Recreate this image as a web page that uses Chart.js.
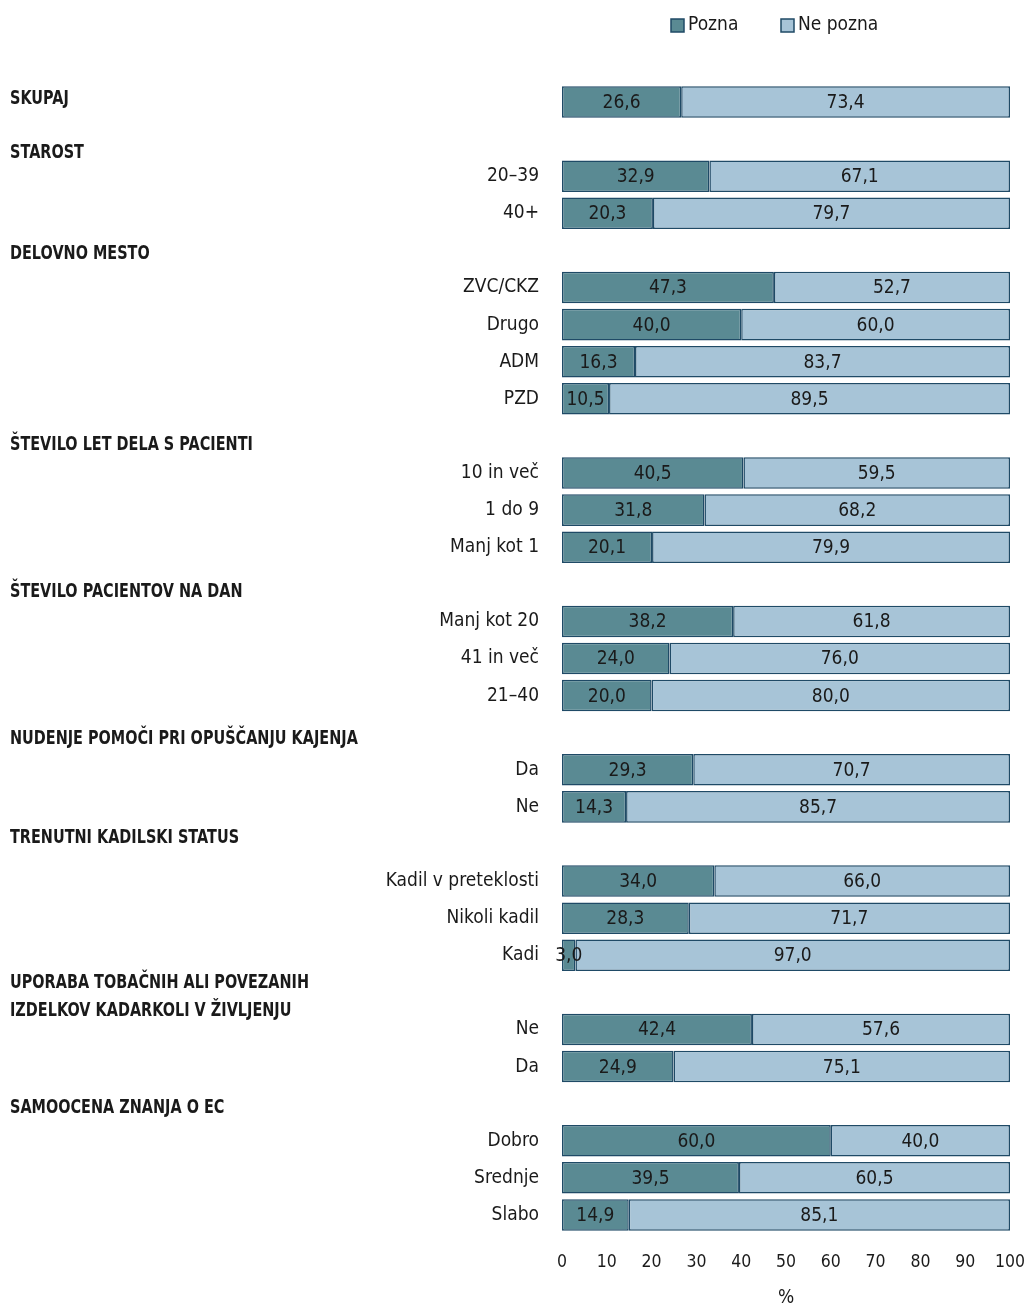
<!DOCTYPE html>
<html lang="sl">
<head>
    <meta charset="UTF-8">
    <title>Poznavanje EC</title>
    <script src="https://cdn.jsdelivr.net/npm/chart.js"></script>
    <style>
        body {
            margin: 0;
            padding: 0;
            background-color: #fff;
        }
        .container {
            width: 1024px;
            height: 1309px;
            position: relative;
        }
    </style>
</head>
<body>

<div class="container">
    <canvas id="ecChart"></canvas>
</div>

<script>
    const categories = [
        'SKUPAJ',
        'STAROST', '20–39', '40+',
        'DELOVNO MESTO', 'ZVC/CKZ', 'Drugo', 'ADM', 'PZD',
        'ŠTEVILO LET DELA S PACIENTI', '10 in več', '1 do 9', 'Manj kot 1',
        'ŠTEVILO PACIENTOV NA DAN', 'Manj kot 20', '41 in več', '21–40',
        'NUDENJE POMOČI PRI OPUŠČANJU KAJENJA', 'Da', 'Ne',
        'TRENUTNI KADILSKI STATUS', 'Kadil v preteklosti', 'Nikoli kadil', 'Kadi',
        'UPORABA TOBAČNIH ALI POVEZANIH|IZDELKOV KADARKOLI V ŽIVLJENJU', 'Ne', 'Da',
        'SAMOOCENA ZNANJA O EC', 'Dobro', 'Srednje', 'Slabo'
    ];
    // rows whose label is a bold group heading on the left
    const headerRows = [0, 1, 4, 9, 13, 17, 20, 24, 27];

    const pozna = [
        26.6,
        null, 32.9, 20.3,
        null, 47.3, 40.0, 16.3, 10.5,
        null, 40.5, 31.8, 20.1,
        null, 38.2, 24.0, 20.0,
        null, 29.3, 14.3,
        null, 34.0, 28.3, 3.0,
        null, 42.4, 24.9,
        null, 60.0, 39.5, 14.9
    ];
    const nePozna = [
        73.4,
        null, 67.1, 79.7,
        null, 52.7, 60.0, 83.7, 89.5,
        null, 59.5, 68.2, 79.9,
        null, 61.8, 76.0, 80.0,
        null, 70.7, 85.7,
        null, 66.0, 71.7, 97.0,
        null, 57.6, 75.1,
        null, 40.0, 60.5, 85.1
    ];
    const xTicks = [0, 10, 20, 30, 40, 50, 60, 70, 80, 90, 100];

    const FONT = "'DejaVu Sans', sans-serif";
    const FSIZE = 19;
    const darkColor = '#5a8a93';
    const lightColor = '#a7c4d7';
    const edgeColor = '#1f4a66';
    // small vertical nudges for the heading text, in px
    const headerNudge = [-3, 14, 4, 9, 8, 6, -6, 5, 4];

    const headerPlugin = {
        id: 'headers',
        afterDraw(chart) {
            const ctx = chart.ctx;
            const yScale = chart.scales.y;
            ctx.save();
            ctx.font = 'bold ' + FSIZE + 'px ' + FONT;
            ctx.fillStyle = '#1a1a1a';
            ctx.textAlign = 'left';
            ctx.textBaseline = 'middle';
            ctx.translate(10, 0);
            ctx.scale(0.76, 1);
            headerRows.forEach((i, h) => {
                const lines = categories[i].split('|');
                const y = yScale.getPixelForValue(i) + headerNudge[h];
                const start = y - (lines.length - 1) * 14;
                lines.forEach((line, k) => ctx.fillText(line, 0, start + k * 28));
            });
            ctx.restore();
        }
    };

    const valuePlugin = {
        id: 'values',
        afterDatasetsDraw(chart) {
            const ctx = chart.ctx;
            ctx.save();
            ctx.font = 'condensed ' + FSIZE + 'px ' + FONT;
            ctx.fillStyle = '#1a1a1a';
            ctx.textAlign = 'center';
            ctx.textBaseline = 'middle';
            chart.data.datasets.forEach((ds, d) => {
                chart.getDatasetMeta(d).data.forEach((bar, i) => {
                    const v = ds.data[i];
                    if (v === null) return;
                    const cx = (bar.x + bar.base) / 2;
                    ctx.fillText(v.toFixed(1).replace('.', ','), cx, bar.y + 1);
                });
            });
            ctx.restore();
        }
    };

    const legendPlugin = {
        id: 'topLegend',
        afterDraw(chart) {
            const ctx = chart.ctx;
            const items = [
                { text: 'Pozna', color: darkColor, x: 671 },
                { text: 'Ne pozna', color: lightColor, x: 781 }
            ];
            ctx.save();
            ctx.font = 'condensed ' + FSIZE + 'px ' + FONT;
            ctx.textBaseline = 'middle';
            ctx.textAlign = 'left';
            items.forEach(it => {
                ctx.fillStyle = it.color;
                ctx.strokeStyle = edgeColor;
                ctx.lineWidth = 1.5;
                ctx.fillRect(it.x, 19, 13, 13);
                ctx.strokeRect(it.x, 19, 13, 13);
                ctx.fillStyle = '#1a1a1a';
                ctx.fillText(it.text, it.x + 17, 25);
            });
            ctx.restore();
        }
    };

    const tickFont = { family: FONT, size: FSIZE, weight: 'condensed' };

    new Chart(document.getElementById('ecChart'), {
        type: 'bar',
        data: {
            labels: categories,
            datasets: [
                {
                    label: 'Pozna',
                    data: pozna,
                    backgroundColor: darkColor,
                    borderColor: edgeColor,
                    borderWidth: 1.5,
                    borderSkipped: false
                },
                {
                    label: 'Ne pozna',
                    data: nePozna,
                    backgroundColor: lightColor,
                    borderColor: edgeColor,
                    borderWidth: 1.5,
                    borderSkipped: false
                }
            ]
        },
        options: {
            indexAxis: 'y',
            responsive: true,
            maintainAspectRatio: false,
            animation: false,
            barPercentage: 0.85,
            categoryPercentage: 1,
            layout: {
                padding: { top: 83.5, right: 14, left: 0, bottom: 0 }
            },
            plugins: {
                legend: { display: false },
                tooltip: { enabled: false }
            },
            scales: {
                x: {
                    stacked: true,
                    min: 0,
                    max: 100,
                    afterBuildTicks: scale => {
                        scale.ticks = xTicks.map(v => ({ value: v }));
                    },
                    grid: { display: false },
                    border: { display: false },
                    ticks: {
                        font: { family: FONT, size: 17.5, weight: 'condensed' },
                        color: '#1a1a1a',
                        padding: 10,
                        maxRotation: 0
                    },
                    title: {
                        display: true,
                        text: '%',
                        font: tickFont,
                        color: '#1a1a1a',
                        padding: { top: 8, bottom: 0 }
                    },
                    afterFit: scale => {
                        scale.height = 75.5;
                        scale.paddingLeft = 0;
                        scale.paddingRight = 0;
                    }
                },
                y: {
                    stacked: true,
                    grid: { display: false },
                    border: { display: false },
                    ticks: {
                        autoSkip: false,
                        font: tickFont,
                        color: '#1a1a1a',
                        padding: 15,
                        callback: function (value, index) {
                            return headerRows.includes(index) ? '' : categories[index];
                        }
                    },
                    afterFit: scale => { scale.width = 562; }
                }
            }
        },
        plugins: [headerPlugin, valuePlugin, legendPlugin]
    });
</script>

</body>
</html>
